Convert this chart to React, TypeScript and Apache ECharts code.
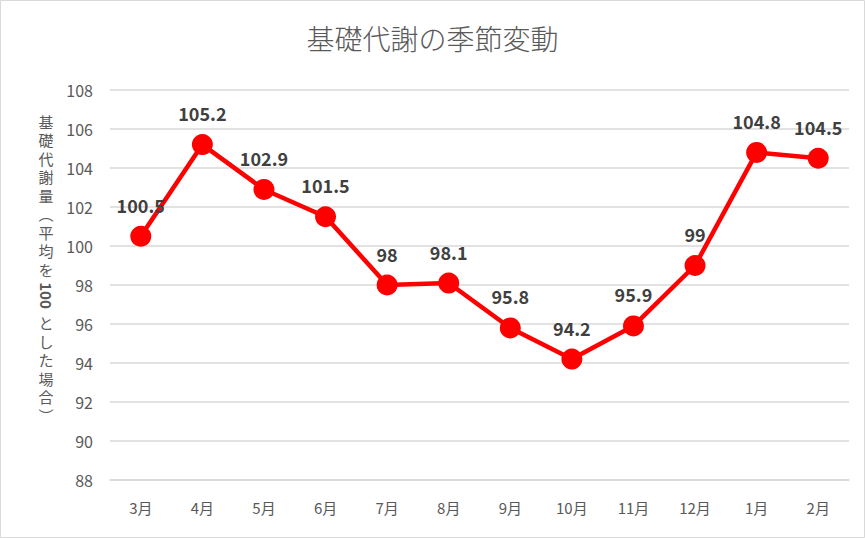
import React, { useEffect, useRef } from "react";
import * as echarts from "echarts";

const categories = ["3月", "4月", "5月", "6月", "7月", "8月", "9月", "10月", "11月", "12月", "1月", "2月"];
const values = [100.5, 105.2, 102.9, 101.5, 98, 98.1, 95.8, 94.2, 95.9, 99, 104.8, 104.5];
const titleText = "基礎代謝の季節変動";
const yNameTop = "基礎代謝量︵平均を";
const yNameMid = "100";
const yNameBottom = "とした場合︶";

const FONT = "'Noto Sans CJK JP', 'Noto Sans', sans-serif";

function stack(s: string) {
  return Array.from(s).join("\n");
}

function buildYName() {
  const x = 46;
  const lh = 18.5;
  const topN = Array.from(yNameTop).length;
  const topY = 112;
  const midStart = topY + topN * lh + 2;
  const midLen = 30;
  const botY = midStart + midLen + 3;
  return {
    type: "group",
    silent: true,
    children: [
      {
        type: "text",
        x,
        y: topY,
        style: {
          text: stack(yNameTop),
          font: `15px ${FONT}`,
          lineHeight: lh,
          fill: "#595959",
          align: "center",
          verticalAlign: "top",
        },
      },
      {
        type: "text",
        x,
        y: midStart + midLen / 2,
        rotation: -Math.PI / 2,
        style: {
          text: yNameMid,
          font: `bold 15px ${FONT}`,
          fill: "#595959",
          align: "center",
          verticalAlign: "middle",
        },
      },
      {
        type: "text",
        x,
        y: botY,
        style: {
          text: stack(yNameBottom),
          font: `15px ${FONT}`,
          lineHeight: lh,
          fill: "#595959",
          align: "center",
          verticalAlign: "top",
        },
      },
    ],
  };
}

export default function App() {
  const ref = useRef<HTMLDivElement>(null);
  useEffect(() => {
    document.body.style.margin = "0";
    const chart = echarts.init(ref.current!, null, { renderer: "svg" });
    chart.setOption({
      animation: false,
      backgroundColor: "#ffffff",
      title: {
        text: titleText,
        left: "center",
        top: 19,
        textStyle: { fontFamily: FONT, fontSize: 28, fontWeight: 300, color: "#595959" },
      },
      grid: { left: 110, right: 16, top: 90, bottom: 58 },
      xAxis: {
        type: "category",
        data: categories,
        axisLine: { lineStyle: { color: "#d9d9d9", width: 1.5 } },
        axisTick: { show: false },
        axisLabel: { color: "#595959", fontSize: 15, fontFamily: FONT, margin: 20 },
      },
      yAxis: {
        type: "value",
        min: 88,
        max: 108,
        interval: 2,
        axisLine: { show: false },
        axisTick: { show: false },
        splitLine: { lineStyle: { color: "#d9d9d9", width: 1.5 } },
        axisLabel: { color: "#595959", fontSize: 16, fontFamily: FONT, margin: 17 },
      },
      graphic: [
        {
          type: "rect",
          shape: { x: 0.5, y: 0.5, width: 864, height: 537 },
          style: { fill: "none", stroke: "#d9d9d9", lineWidth: 1 },
          silent: true,
        },
        buildYName(),
      ],
      series: [
        {
          type: "line",
          data: values,
          symbol: "circle",
          symbolSize: 21,
          lineStyle: { color: "#ff0000", width: 4.5 },
          itemStyle: { color: "#ff0000" },
          label: {
            show: true,
            position: "top",
            distance: 12,
            color: "#404040",
            fontSize: 18,
            fontWeight: "bold",
            fontFamily: FONT,
          },
        },
      ],
    });
    return () => chart.dispose();
  }, []);
  return <div ref={ref} style={{ width: 865, height: 538 }} />;
}
